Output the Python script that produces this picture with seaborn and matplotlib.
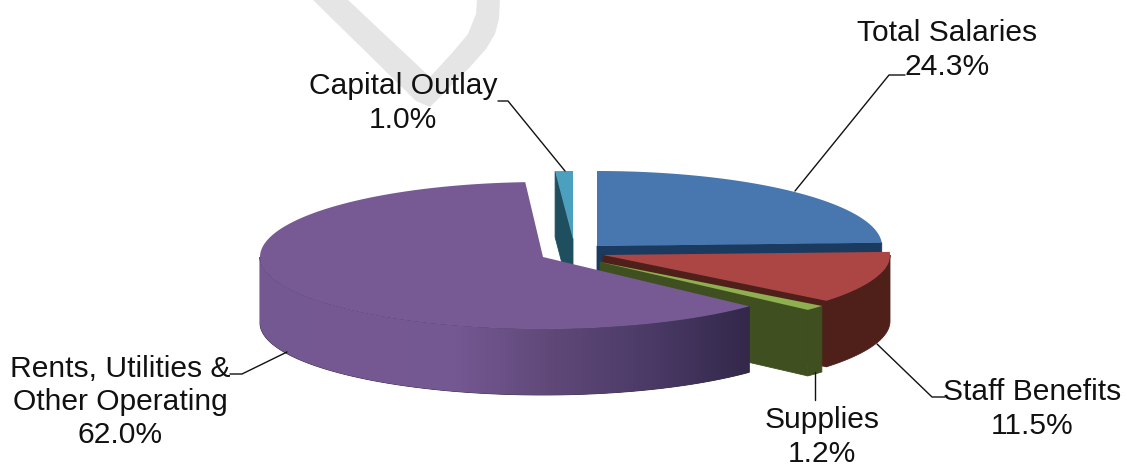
import numpy as np
import matplotlib
matplotlib.use('Agg')
import matplotlib.pyplot as plt
import seaborn as sns

# chart values
categories = ['Total Salaries', 'Staff Benefits', 'Supplies',
              'Rents, Utilities &\nOther Operating', 'Capital Outlay']
shares = [24.3, 11.5, 1.2, 62.0, 1.0]

# pixel layout of each exploded slice: apex x, apex y, radius x, radius y back, radius y front
slice_geom = [(597, 247, 285, 75, 71), (603, 256, 287, 71, 73), (600, 263, 285, 70, 70),
              (543, 258, 283, 75, 72), (573, 240, 285, 68, 68)]
top_colors = ['#4877b0', '#ac4644', '#8eb04e', '#775a94', '#4ba0bf']
cut_colors = ['#1a3a60', '#4f1f1a', '#3f4f20', '#33284a', '#1f4f5f']
layer = [1, 2, 3, 5, 1.5]
depth = 66
label_pos = [(947, 50), (1032, 409), (822, 437), (120, 402), (403, 103)]
leaders = [[(795, 192), (889, 76), (905, 76)],
           [(877, 345), (932, 398), (945, 398)],
           [(815, 373), (815, 401)],
           [(287, 353), (242, 375), (230, 375)],
           [(565, 172), (508, 102), (498, 102)]]
watermark_x = [312, 416, 430, 470, 486, 495, 499, 500, 477, 476, 468, 452, 430, 347]
watermark_y = [0, 102, 108, 68, 50, 35, 20, 0, 0, 15, 35, 54, 78, 0]

sns.set_theme(style='white')
plt.rcParams['font.family'] = ['Liberation Sans', 'DejaVu Sans']

edges = np.cumsum([0] + shares) / sum(shares) * 360


def rim(geom, theta):
    cx, cy, a, b_back, b_front = geom
    theta = np.radians(theta)
    c = np.cos(theta)
    return cx + a * np.sin(theta), cy - np.where(c > 0, b_back, b_front) * c


fig, ax = plt.subplots(figsize=(11.27, 4.77), dpi=100)
ax.set_position([0, 0, 1, 1])

ax.fill(watermark_x, watermark_y, color='#e5e5e5', lw=0, zorder=0)

# side of the big slice runs from the top colour at the left to almost black at the cut
purple_wall = sns.blend_palette(['#745892', '#765993', '#745892', '#5f4878', '#4a3a66', '#33284a'], n_colors=256)

for i, geom in enumerate(slice_geom):
    t1, t2 = edges[i], edges[i + 1]
    zo = layer[i]

    # flat cut face that looks toward the viewer
    if i != 3:
        cut_theta = t1 if i == 4 else t2
        rx, ry = rim(geom, cut_theta)
        ax.fill([geom[0], rx, rx, geom[0]], [geom[1], ry, ry + depth, geom[1] + depth],
                facecolor=cut_colors[i], edgecolor=cut_colors[i], lw=0.6, zorder=zo)

    # outer wall
    lo, hi = max(t1, 90), min(t2, 270)
    if hi > lo:
        arc = np.linspace(lo, hi, 200)
        wx, wy = rim(geom, arc)
        wall, = ax.fill(np.r_[wx, wx[::-1]], np.r_[wy, wy[::-1] + depth],
                        facecolor=cut_colors[i], edgecolor=cut_colors[i], lw=0.6, zorder=zo)
        if i == 3:
            img = ax.imshow(np.array(purple_wall)[None, :], aspect='auto',
                            extent=(wx.min(), wx.max(), wy.max() + depth, wy.min()), zorder=zo + 0.1)
            img.set_clip_path(wall)

    # top face
    arc = np.linspace(t1, t2, 200)
    fx, fy = rim(geom, arc)
    ax.fill(np.r_[geom[0], fx], np.r_[geom[1], fy], color=top_colors[i], lw=0, zorder=zo + 0.2)

for cat, val, pos, pts in zip(categories, shares, label_pos, leaders):
    ax.plot(*zip(*pts), color='#111111', lw=1.0, zorder=6)
    ax.text(pos[0], pos[1], f'{cat}\n{val:.1f}%', ha='center', va='center',
            fontsize=21.6, color='#111111', linespacing=1.24, zorder=7)

ax.set_xlim(0, 1127)
ax.set_ylim(477, 0)
ax.axis('off')

fig.savefig('out.png', dpi=100)
